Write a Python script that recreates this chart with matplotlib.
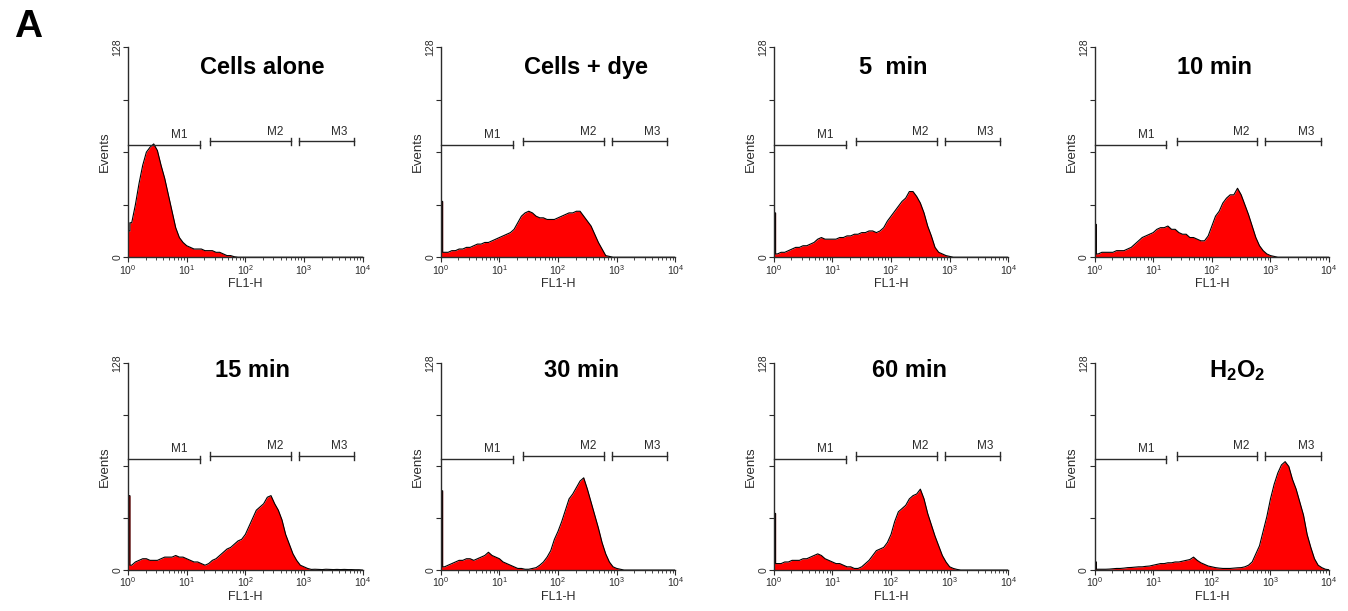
import numpy as np
import matplotlib
matplotlib.use("Agg")
import matplotlib.pyplot as plt
from matplotlib.ticker import FixedLocator, LogLocator, NullFormatter

plt.rcParams['font.family'] = ['Liberation Sans', 'DejaVu Sans']
plt.rcParams['mathtext.fontset'] = 'custom'
plt.rcParams['mathtext.rm'] = 'Liberation Sans'
plt.rcParams['mathtext.bf'] = 'Liberation Sans:bold'

# FL1-H channels, 16 per decade (log10 of fluorescence, 0..4)
channel = np.arange(65) / 16

titles = ["Cells alone", "Cells + dye", "5  min", "10 min",
          "15 min", "30 min", "60 min", r"$\mathbf{H_2O_2}$"]

cells_alone = [16, 21, 32, 45, 56, 64, 67, 69, 65, 56, 48, 38, 28, 18, 12, 9,
               7, 6, 5, 5, 5, 4, 4, 4, 3, 3, 2, 1, 1, 0.3, 0, 0,
               0, 0, 0, 0, 0, 0, 0, 0, 0, 0, 0, 0, 0, 0, 0, 0,
               0, 0, 0, 0, 0, 0, 0, 0, 0, 0, 0, 0, 0, 0, 0, 0, 0]
cells_dye = [34, 3, 3, 4, 4, 5, 5, 6, 6, 7, 8, 8, 9, 9, 10, 11,
             12, 13, 14, 15, 17, 21, 25, 27, 28, 27, 25, 24, 24, 23, 23, 23,
             24, 25, 26, 27, 27, 28, 28, 25, 22, 19, 14, 9, 5, 1, 0.5, 0,
             0, 0, 0, 0, 0, 0, 0, 0, 0, 0, 0, 0, 0, 0, 0, 0, 0]
min5 = [27, 2, 3, 3, 4, 5, 6, 6, 7, 7, 8, 9, 11, 12, 11, 11,
        11, 11, 12, 12, 13, 13, 14, 14, 15, 15, 16, 16, 15, 16, 18, 22,
        25, 28, 31, 34, 36, 40, 40, 37, 33, 27, 19, 13, 6, 3, 2, 1,
        0.5, 0, 0, 0, 0, 0, 0, 0, 0, 0, 0, 0, 0, 0, 0, 0, 0]
min10 = [20, 2, 3, 3, 3, 3, 4, 4, 4, 5, 6, 8, 10, 12, 13, 14,
         15, 17, 18, 18, 19, 17, 17, 15, 14, 14, 12, 12, 11, 10, 10, 13,
         19, 25, 28, 33, 36, 38, 38, 42, 38, 32, 26, 19, 12, 7, 4, 2,
         1, 0.5, 0, 0, 0, 0, 0, 0, 0, 0, 0, 0, 0, 0, 0, 0, 0]
min15 = [46, 3, 5, 6, 7, 7, 6, 6, 6, 7, 8, 8, 8, 9, 8, 8,
         7, 6, 5, 5, 4, 3, 4, 6, 7, 9, 11, 13, 14, 16, 18, 19,
         22, 27, 32, 37, 39, 41, 45, 46, 41, 37, 31, 22, 16, 10, 6, 3,
         2, 1, 0.4, 0.5, 0.4, 0.3, 0.5, 0.4, 0.3, 0.4, 0.3, 0.4, 0.3, 0.3, 0.2, 0.2, 0]
min30 = [49, 2, 3, 4, 5, 6, 6, 7, 7, 6, 7, 8, 9, 11, 9, 8,
         7, 5, 4, 3, 2, 1, 1, 0.5, 0.5, 1, 1.5, 3, 5, 8, 12, 19,
         24, 30, 37, 44, 47, 51, 55, 57, 50, 42, 34, 26, 17, 10, 5, 2,
         1, 0.5, 0, 0, 0, 0, 0, 0, 0, 0, 0, 0, 0, 0, 0, 0, 0]
min60 = [35, 4, 4, 5, 5, 6, 6, 6, 7, 7, 8, 9, 10, 9, 7, 6,
         5, 4, 4, 3, 2, 2, 1, 1, 2, 4, 6, 9, 12, 13, 14, 17,
         22, 30, 36, 38, 40, 44, 46, 47, 50, 44, 35, 28, 21, 15, 9, 5,
         2, 1, 0.4, 0, 0, 0, 0, 0, 0, 0, 0, 0, 0, 0, 0, 0, 0]
h2o2 = [5, 0.5, 0.5, 0.5, 0.6, 0.8, 1, 1, 1.2, 1.5, 1.6, 1.8, 2, 2, 2.3, 2.5,
        3, 3.5, 4, 4, 4.5, 4.5, 5, 5, 5.5, 6, 6.5, 8, 6, 4.5, 3.5, 2.5,
        2, 1.5, 1.2, 1, 1, 1, 1.2, 1.4, 1.5, 2, 3, 5, 10, 15, 24, 33,
        44, 53, 60, 65, 67, 64, 56, 50, 42, 34, 22, 14, 7, 3, 1.5, 0.5, 0.2]

series = [cells_alone, cells_dye, min5, min10, min15, min30, min60, h2o2]

# marker gates M1, M2, M3: (start, end) on FL1-H, and bar height
gate_names = ["M1", "M2", "M3"]
gate_start = [1, 25, 820]
gate_end = [16.8, 600, 7200]
gate_level = [68.5, 70.5, 70.5]
gate_label_x = [7.5, 320, 4000]

title_x = [0.57, 0.62, 0.51, 0.51, 0.53, 0.60, 0.58, 0.61]
title_y = [0.905] * 4 + [0.965] * 4

fig = plt.figure(figsize=(13.48, 6.11), dpi=100)
lefts = [0.095, 0.327, 0.574, 0.812]
rows = [(0.579, 0.344), (0.067, 0.339)]

ink = '#2b2b2b'
half = 10 ** (1 / 32)

for i, counts in enumerate(series):
    bottom, height = rows[i // 4]
    ax = fig.add_axes([lefts[i % 4], bottom, 0.174, height])

    # first channel is the pile-up bin, drawn as a narrow column
    fl = 10 ** channel
    xs = np.r_[fl[0], fl[0], half, half, fl[1:]]
    ys = np.r_[0, counts[0], counts[0], counts[1], counts[1:]]
    ax.fill_between(xs, ys, 0, color='#ff0000', lw=0, zorder=2)
    ax.plot(xs, ys, color='black', lw=0.8, zorder=3)

    ax.set_xscale('log')
    ax.set_xlim(1, 1e4)
    ax.set_ylim(0, 128)

    for s in ['top', 'right']:
        ax.spines[s].set_visible(False)
    for s in ['left', 'bottom']:
        ax.spines[s].set_color(ink)
        ax.spines[s].set_linewidth(1.0)
        ax.spines[s].set_zorder(4)

    ax.yaxis.set_major_locator(FixedLocator([0, 32, 64, 96, 128]))
    ax.set_yticklabels(['0', '', '', '', '128'], rotation=90, va='center')
    ax.xaxis.set_major_locator(LogLocator(base=10, numticks=10))
    ax.xaxis.set_minor_locator(LogLocator(base=10, subs=np.arange(2, 10), numticks=20))
    ax.xaxis.set_minor_formatter(NullFormatter())
    ax.tick_params(axis='both', which='major', direction='out', length=3.5,
                   width=0.8, color=ink, labelsize=7.5, labelcolor=ink, pad=0.5)
    ax.tick_params(axis='x', which='minor', direction='out', length=2,
                   width=0.6, color=ink)

    ax.set_xlabel('FL1-H', fontsize=9, color=ink, labelpad=1)
    ax.set_ylabel('Events', fontsize=9.5, color=ink, labelpad=1)

    # gate markers with end caps
    for name, x0, x1, yv, lx in zip(gate_names, gate_start, gate_end,
                                    gate_level, gate_label_x):
        ax.plot([x0, x1], [yv, yv], color=ink, lw=1.0, zorder=5, clip_on=False)
        caps = [x1] if name == 'M1' else [x0, x1]
        for cx in caps:
            ax.plot([cx, cx], [yv - 2.2, yv + 2.2], color=ink, lw=1.0, zorder=5)
        ax.text(lx, yv + 2.3, name, fontsize=8.5, color=ink, ha='center',
                va='bottom', zorder=5)

    ax.text(title_x[i], title_y[i], titles[i], transform=ax.transAxes,
            fontsize=17, fontweight='bold', ha='center', va='center')

fig.text(0.021, 0.955, 'A', fontsize=28, fontweight='bold', ha='center', va='center')

fig.savefig('out.png', dpi=100)
